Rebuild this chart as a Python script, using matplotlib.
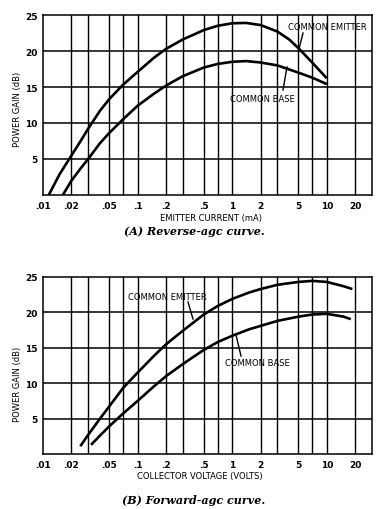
import matplotlib
matplotlib.use("Agg")
import matplotlib.pyplot as plt

# (A) reverse-agc, emitter current in mA
rev_ce_x = [0.0115, 0.015, 0.02, 0.025, 0.03, 0.04, 0.05, 0.07, 0.1, 0.15, 0.2, 0.3, 0.5, 0.7,
            1.0, 1.4, 2.0, 3.0, 4.0, 5.0, 7.0, 10.0]
rev_ce_y = [0.0, 2.9, 5.5, 7.5, 9.2, 11.7, 13.3, 15.3, 17.1, 19.1, 20.3, 21.6, 22.9, 23.5,
            23.85, 23.9, 23.6, 22.7, 21.6, 20.4, 18.4, 16.2]
rev_cb_x = [0.0162, 0.02, 0.025, 0.03, 0.04, 0.05, 0.07, 0.1, 0.15, 0.2, 0.3, 0.5, 0.7, 1.0,
            1.4, 2.0, 3.0, 5.0, 7.0, 10.0]
rev_cb_y = [0.0, 2.0, 3.7, 5.0, 7.2, 8.6, 10.5, 12.4, 14.1, 15.2, 16.5, 17.7, 18.2, 18.5,
            18.6, 18.4, 18.0, 17.0, 16.3, 15.4]

# (B) forward-agc, collector voltage in volts
fwd_ce_x = [0.0248, 0.03, 0.04, 0.05, 0.07, 0.1, 0.15, 0.2, 0.3, 0.5, 0.7, 1.0, 1.5, 2.0,
            3.0, 5.0, 7.0, 10.0, 15.0, 18.6]
fwd_ce_y = [1.1, 2.7, 5.0, 6.7, 9.3, 11.5, 13.9, 15.5, 17.4, 19.7, 20.9, 21.9, 22.8, 23.3,
            23.9, 24.3, 24.45, 24.3, 23.7, 23.3]
fwd_cb_x = [0.0322, 0.04, 0.05, 0.07, 0.1, 0.15, 0.2, 0.3, 0.5, 0.7, 1.0, 1.5, 2.0, 3.0,
            5.0, 7.0, 10.0, 15.0, 17.9]
fwd_cb_y = [1.3, 2.6, 3.9, 5.7, 7.5, 9.6, 11.0, 12.7, 14.7, 15.8, 16.7, 17.6, 18.1, 18.8,
            19.4, 19.7, 19.8, 19.4, 19.05]

grid_x = [0.02, 0.03, 0.05, 0.07, 0.1, 0.2, 0.3, 0.5, 0.7, 1, 2, 3, 5, 7, 10, 20]
tick_x = [0.01, 0.02, 0.05, 0.1, 0.2, 0.5, 1, 2, 5, 10, 20]
tick_x_labels = [".01", ".02", ".05", ".1", ".2", ".5", "1", "2", "5", "10", "20"]
tick_y = [5, 10, 15, 20, 25]

W, H = 388, 510
sans = ["Liberation Sans Narrow", "DejaVu Sans"]
serif = ["DejaVu Serif"]

fig = plt.figure(figsize=(W / 100, H / 100), dpi=100)


def px(x, y):
    return x / W, 1 - y / H


def panel(top, bottom, ce, cb, xlabel, x_xlab, caption, y_xlab, y_cap, ylab_y, labels):
    l, b = px(43, bottom)
    r, t = px(372, top)
    ax = fig.add_axes([l, b, r - l, t - b])
    ax.set_xscale("log")
    ax.set_xlim(0.01, 30)
    ax.set_ylim(0, 25)
    for gx in grid_x:
        ax.axvline(gx, color="black", lw=1.0, zorder=1)
    for gy in tick_y[:-1]:
        ax.axhline(gy, color="black", lw=1.1, zorder=1)
    ax.plot(ce[0], ce[1], color="black", lw=1.9, zorder=3, solid_capstyle="butt")
    ax.plot(cb[0], cb[1], color="black", lw=1.9, zorder=3, solid_capstyle="butt")
    ax.set_xticks(tick_x)
    ax.set_xticklabels(tick_x_labels, family=sans, fontsize=6.5, fontweight="bold")
    ax.xaxis.set_minor_locator(plt.NullLocator())
    ax.set_yticks(tick_y)
    ax.set_yticklabels([str(v) for v in tick_y], family=sans, fontsize=6.5, fontweight="bold")
    ax.tick_params(length=0, pad=4)
    for s in ax.spines.values():
        s.set_linewidth(1.1)
    ax.set_ylabel("POWER GAIN (dB)", family=sans, fontsize=6)
    ax.yaxis.set_label_coords((21.7 - 43) / 329, ylab_y)
    fig.text(*px(x_xlab, y_xlab), xlabel, family=sans, fontsize=6.0, ha="center", va="center")
    fig.text(*px(194, y_cap), caption, family=serif, fontsize=8, fontweight="bold",
             style="italic", ha="center", va="center")
    for text, (tx, ty), (x0, y0, x1, y1) in labels:
        fig.text(*px(tx, ty), text, family=sans, fontsize=6, ha="center", va="center")
        fig.add_artist(plt.Line2D([x0 / W, x1 / W], [1 - y0 / H, 1 - y1 / H],
                                  color="black", lw=1.0))
    return ax


panel(16, 196, (rev_ce_x, rev_ce_y), (rev_cb_x, rev_cb_y),
      "EMITTER CURRENT (mA)", 211, "(A) Reverse-agc curve.", 218, 232, 0.48,
      [("COMMON EMITTER", (327, 27), (303, 34, 299, 50)),
       ("COMMON BASE", (262, 99), (283, 91, 287, 68))])

panel(278, 455, (fwd_ce_x, fwd_ce_y), (fwd_cb_x, fwd_cb_y),
      "COLLECTOR VOLTAGE (VOLTS)", 200, "(B) Forward-agc curve.", 477, 501, 0.40,
      [("COMMON EMITTER", (167, 298), (188, 303, 193, 320)),
       ("COMMON BASE", (257, 363), (241, 357, 236, 336))])

fig.savefig("out.png", dpi=100, facecolor="white")
